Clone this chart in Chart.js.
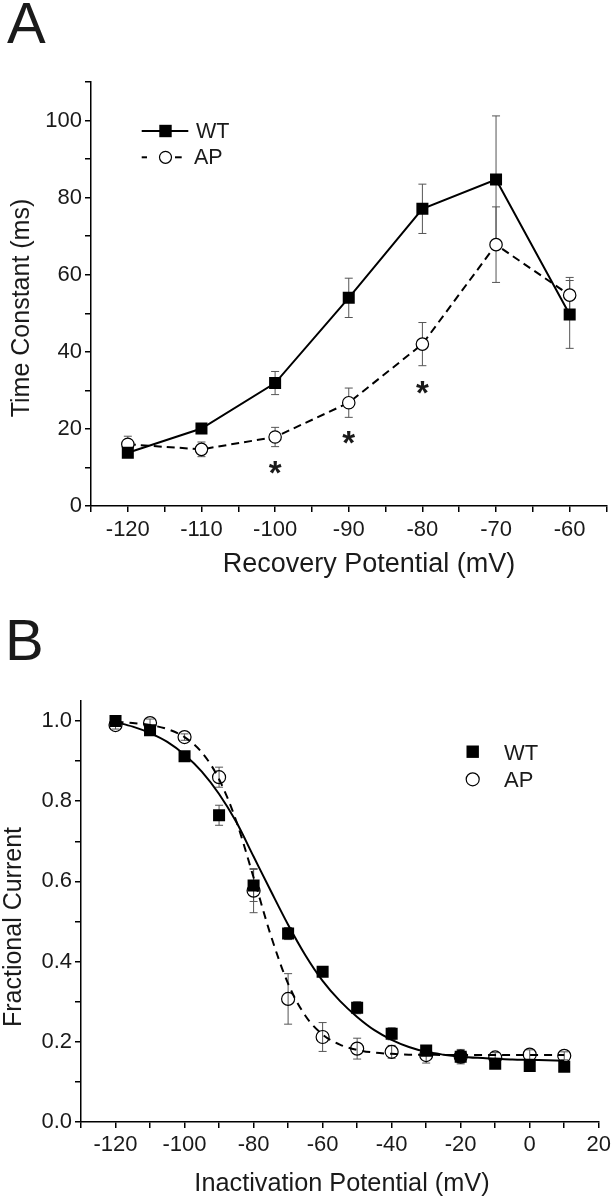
<!DOCTYPE html>
<html>
<head>
<meta charset="utf-8">
<title>Recovery and inactivation</title>
<script src="https://cdn.jsdelivr.net/npm/chart.js@4.4.1/dist/chart.umd.min.js"></script>
<style>
  body { margin: 0; background: #fff; font-family: "Liberation Sans", Arial, sans-serif; color: #1a1a1a; }
  #page { position: relative; width: 615px; height: 1199px; overflow: hidden; }
  .box { position: absolute; left: 0; width: 615px; }
  .panel { position: absolute; font-size: 58px; line-height: 1; }
  .xt { position: absolute; font-size: 26px; line-height: 1; white-space: nowrap; transform: translateX(-50%); }
  .yt { position: absolute; width: 300px; height: 26px; text-align: center; font-size: 25px; line-height: 26px; white-space: nowrap; transform: rotate(-90deg); }
</style>
</head>
<body>
<div id="page">
  <div class="box" style="top:0;height:600px"><canvas id="chartA"></canvas></div>
  <div class="box" style="top:600px;height:599px"><canvas id="chartB"></canvas></div>

  <div class="panel" style="left:7px;top:-6px">A</div>
  <div class="panel" style="left:5px;top:611px">B</div>

  <div class="yt" style="left:-130px;top:295px">Time Constant (ms)</div>
  <div class="xt" style="left:369px;top:550px;font-size:27px">Recovery Potential (mV)</div>

  <div class="yt" style="left:-138px;top:914px">Fractional Current</div>
  <div class="xt" style="left:342px;top:1170px;font-size:25.3px">Inactivation Potential (mV)</div>
</div>

<script>
// panel A: recovery time constants
const recoveryV = [-120, -110, -100, -90, -80, -70, -60];
const recoveryWT = [13.8, 20.1, 31.9, 54, 77.1, 84.7, 49.7];
const recoveryWTErr = [1.2, 1.3, 3, 5.1, 6.4, 16.5, 8.8];
const recoveryAP = [16, 14.7, 17.9, 26.8, 42, 67.8, 54.7];
const recoveryAPErr = [2.1, 1.9, 2.5, 3.8, 5.6, 9.8, 4.6];
const starV = [-100, -90, -80];
const starY = [10.6, 18.4, 31.5];

// panel B: steady-state inactivation
const inactV = [-120, -110, -100, -90, -80, -70, -60, -50, -40, -30, -20, -10, 0, 10];
const inactWT = [1.0, 0.977, 0.912, 0.765, 0.59, 0.47, 0.375, 0.285, 0.22, 0.178, 0.163, 0.145, 0.14, 0.138];
const inactWTErr = [0.005, 0.01, 0.01, 0.025, 0.04, 0.015, 0.012, 0.015, 0.015, 0.012, 0.015, 0.01, 0.01, 0.01];
const inactAP = [0.99, 0.995, 0.96, 0.86, 0.577, 0.307, 0.212, 0.183, 0.175, 0.167, 0.163, 0.161, 0.168, 0.165];
const inactAPErr = [0.01, 0.01, 0.008, 0.025, 0.055, 0.063, 0.036, 0.026, 0.016, 0.02, 0.018, 0.012, 0.012, 0.01];

// fitted curves, every 5 mV
const fitV = [-120, -115, -110, -105, -100, -95, -90, -85, -80, -75, -70, -65, -60, -55,
              -50, -45, -40, -35, -30, -25, -20, -15, -10, -5, 0, 5, 10];
const fitWT = [0.997, 0.986, 0.970, 0.948, 0.916, 0.874, 0.818, 0.748, 0.662, 0.576, 0.492, 0.416, 0.352, 0.302,
               0.262, 0.229, 0.205, 0.187, 0.175, 0.168, 0.163, 0.160, 0.158, 0.156, 0.155, 0.154, 0.153];
const fitAP = [0.998, 0.995, 0.990, 0.980, 0.960, 0.922, 0.855, 0.750, 0.610, 0.465, 0.345, 0.265, 0.218, 0.193,
               0.180, 0.173, 0.170, 0.168, 0.168, 0.167, 0.167, 0.167, 0.167, 0.167, 0.167, 0.167, 0.167];

const FONT = "'Liberation Sans', Arial, sans-serif";
const INK = "#1a1a1a";

function pts(xs, ys) {
    return xs.map((x, i) => ({ x: x, y: ys[i] }));
}

// vertical error bars with caps, drawn under the markers
const errorBars = {
    id: "errorBars",
    beforeDatasetsDraw(chart) {
        const ctx = chart.ctx;
        const y = chart.scales.y;
        ctx.save();
        ctx.strokeStyle = "#555";
        ctx.lineWidth = 1;
        chart.data.datasets.forEach((ds, i) => {
            if (!ds.errors) return;
            chart.getDatasetMeta(i).data.forEach((el, j) => {
                const v = ds.data[j].y;
                const e = ds.errors[j];
                const top = y.getPixelForValue(v + e);
                const bot = y.getPixelForValue(v - e);
                ctx.beginPath();
                ctx.moveTo(el.x, top);
                ctx.lineTo(el.x, bot);
                ctx.moveTo(el.x - 4, top);
                ctx.lineTo(el.x + 4, top);
                ctx.moveTo(el.x - 4, bot);
                ctx.lineTo(el.x + 4, bot);
                ctx.stroke();
            });
        });
        ctx.restore();
    },
};

// significance asterisks
const stars = {
    id: "stars",
    afterDatasetsDraw(chart, args, opts) {
        if (!opts.x) return;
        const { ctx, scales } = chart;
        ctx.save();
        ctx.font = "bold 33px " + FONT;
        ctx.fillStyle = INK;
        ctx.textAlign = "center";
        ctx.textBaseline = "alphabetic";
        opts.x.forEach((v, i) => {
            ctx.fillText("*", scales.x.getPixelForValue(v), scales.y.getPixelForValue(opts.y[i]) + 19);
        });
        ctx.restore();
    },
};

// legend with line + marker samples
const markLegend = {
    id: "markLegend",
    afterDraw(chart, args, opts) {
        if (!opts.items) return;
        const ctx = chart.ctx;
        ctx.save();
        opts.items.forEach((it) => {
            ctx.strokeStyle = "#000";
            ctx.lineWidth = 2;
            (it.segs || []).forEach(([a, b]) => {
                ctx.beginPath();
                ctx.moveTo(a, it.y);
                ctx.lineTo(b, it.y);
                ctx.stroke();
            });
            if (it.marker === "rect") {
                ctx.fillStyle = "#000";
                ctx.fillRect(opts.mx - 6.2, it.y - 6.2, 12.4, 12.4);
            } else {
                ctx.lineWidth = 1.2;
                ctx.fillStyle = "#fff";
                ctx.beginPath();
                ctx.arc(opts.mx, it.y, it.r, 0, Math.PI * 2);
                ctx.fill();
                ctx.stroke();
            }
            ctx.fillStyle = INK;
            ctx.font = opts.size + "px " + FONT;
            ctx.textAlign = "left";
            ctx.textBaseline = "alphabetic";
            ctx.fillText(it.label, it.tx, it.base);
        });
        ctx.restore();
    },
};

function xAxis(min, max, step, every, h, pad) {
    return {
        type: "linear",
        min: min,
        max: max,
        afterFit: (s) => { s.height = h; },
        border: { display: true, color: "#000", width: 1.5 },
        grid: { display: true, drawOnChartArea: false, drawTicks: true, tickLength: 6, color: "#000", lineWidth: 1.5 },
        ticks: {
            stepSize: step,
            autoSkip: false,
            maxRotation: 0,
            padding: pad,
            color: INK,
            font: { family: FONT, size: 22 },
            callback: (v) => (Math.round(v) % every === 0 ? String(Math.round(v)) : ""),
        },
    };
}

function yAxis(min, max, step, fmt, w) {
    return {
        min: min,
        max: max,
        afterFit: (s) => { s.width = w; },
        border: { display: true, color: "#000", width: 1.5 },
        grid: { display: true, drawOnChartArea: false, drawTicks: true, tickLength: 6, color: "#000", lineWidth: 1.5 },
        ticks: {
            stepSize: step,
            includeBounds: false,
            autoSkip: false,
            padding: 3,
            color: INK,
            font: { family: FONT, size: 22 },
            callback: fmt,
        },
    };
}

new Chart(document.getElementById("chartA"), {
    type: "line",
    data: {
        datasets: [
            {
                label: "WT",
                data: pts(recoveryV, recoveryWT),
                errors: recoveryWTErr,
                borderColor: "#000",
                borderWidth: 2,
                tension: 0,
                pointStyle: "rect",
                pointRadius: 8.5,
                pointBackgroundColor: "#000",
                pointBorderColor: "#000",
                pointBorderWidth: 0,
            },
            {
                label: "AP",
                data: pts(recoveryV, recoveryAP),
                errors: recoveryAPErr,
                borderColor: "#000",
                borderWidth: 2,
                borderDash: [8, 5],
                tension: 0,
                pointStyle: "circle",
                pointRadius: 6.2,
                pointBackgroundColor: "#fff",
                pointBorderColor: "#000",
                pointBorderWidth: 1.2,
            },
        ],
    },
    options: {
        responsive: true,
        maintainAspectRatio: false,
        animation: false,
        layout: { padding: { left: 0, top: 82, right: 3, bottom: 0 } },
        scales: {
            x: xAxis(-125, -55, 5, 10, 94, 5),
            y: yAxis(0, 110, 10, (v) => (Math.round(v) % 20 === 0 ? String(Math.round(v)) : ""), 91),
        },
        plugins: {
            legend: { display: false },
            tooltip: { enabled: false },
            stars: { x: starV, y: starY },
            markLegend: {
                mx: 165.5,
                size: 21.5,
                items: [
                    { label: "WT", marker: "rect", y: 131, segs: [[141.7, 160], [171, 188.3]], tx: 196, base: 138.3 },
                    { label: "AP", marker: "circle", r: 6, y: 157.3, segs: [[141.7, 147], [175, 181.7]], tx: 194, base: 164 },
                ],
            },
        },
    },
    plugins: [errorBars, stars, markLegend],
});

new Chart(document.getElementById("chartB"), {
    type: "line",
    data: {
        datasets: [
            {
                label: "AP",
                data: pts(inactV, inactAP),
                errors: inactAPErr,
                showLine: false,
                pointStyle: "circle",
                pointRadius: 6.5,
                pointBackgroundColor: "rgba(255,255,255,0)",
                pointBorderColor: "#000",
                pointBorderWidth: 1.2,
            },
            {
                label: "WT",
                data: pts(inactV, inactWT),
                errors: inactWTErr,
                showLine: false,
                pointStyle: "rect",
                pointRadius: 8.5,
                pointBackgroundColor: "#000",
                pointBorderColor: "#000",
                pointBorderWidth: 0,
            },
            {
                label: "WT fit",
                data: pts(fitV, fitWT),
                borderColor: "#000",
                borderWidth: 2,
                cubicInterpolationMode: "monotone",
                pointRadius: 0,
            },
            {
                label: "AP fit",
                data: pts(fitV, fitAP),
                borderColor: "#000",
                borderWidth: 2,
                borderDash: [8, 6],
                cubicInterpolationMode: "monotone",
                pointRadius: 0,
            },
        ],
    },
    options: {
        responsive: true,
        maintainAspectRatio: false,
        animation: false,
        layout: { padding: { left: 0, top: 101, right: 13, bottom: 0 } },
        scales: {
            x: xAxis(-130, 20, 10, 20, 77, 4),
            y: yAxis(0, 1.05, 0.1, (v) => (Math.round(v * 10) % 2 === 0 ? v.toFixed(1) : ""), 81),
        },
        plugins: {
            legend: { display: false },
            tooltip: { enabled: false },
            markLegend: {
                mx: 472.7,
                size: 22,
                items: [
                    { label: "WT", marker: "rect", y: 151.7, tx: 504, base: 160 },
                    { label: "AP", marker: "circle", r: 6.5, y: 179.3, tx: 504, base: 187.3 },
                ],
            },
        },
    },
    plugins: [errorBars, markLegend],
});
</script>
</body>
</html>
